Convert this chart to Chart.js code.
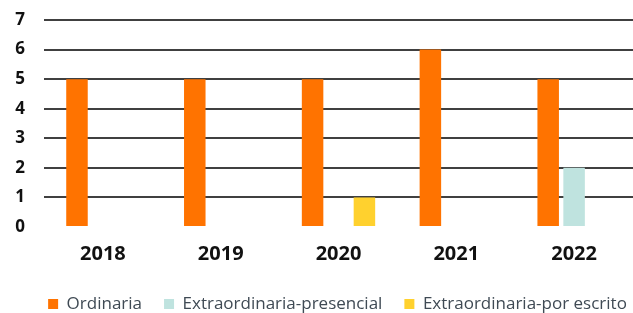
<!DOCTYPE html>
<html>
<head>
<meta charset="utf-8">
<script src="https://cdn.jsdelivr.net/npm/chart.js@4"></script>
<style>
    html, body { margin: 0; padding: 0; background: #fff; }
    #wrap { width: 633px; height: 313px; position: relative; }
</style>
</head>
<body>
<div id="wrap"><canvas id="chartSesiones"></canvas></div>
<script>
const years = ["2018", "2019", "2020", "2021", "2022"];
const ordinaria = [5, 5, 5, 6, 5];
const extraPresencial = [0, 0, 0, 0, 2];
const extraEscrito = [0, 0, 1, 0, 0];
const yTicks = [0, 1, 2, 3, 4, 5, 6, 7];

// the legend in the original sits a bit right of centre
const legendShift = {
    id: "legendShift",
    afterLayout(chart) {
        chart.legend.left += 21;
        chart.legend.right += 21;
    }
};

new Chart(document.getElementById("chartSesiones"), {
    type: "bar",
    data: {
        labels: years,
        datasets: [
            { label: "Ordinaria", data: ordinaria, backgroundColor: "#ff7300" },
            { label: "Extraordinaria-presencial", data: extraPresencial, backgroundColor: "#bfe3df" },
            { label: "Extraordinaria-por escrito", data: extraEscrito, backgroundColor: "#ffd12e" }
        ]
    },
    options: {
        responsive: true,
        maintainAspectRatio: false,
        animation: false,
        layout: { padding: { top: 0, right: 0, left: 0, bottom: -9.5 } },
        datasets: {
            bar: { categoryPercentage: 0.66, barPercentage: 0.83 }
        },
        plugins: {
            legend: {
                position: "bottom",
                labels: {
                    boxWidth: 10,
                    boxHeight: 10,
                    padding: 22,
                    color: "#3f4a54",
                    font: { family: "Open Sans", size: 17 }
                }
            },
            tooltip: { enabled: false }
        },
        scales: {
            x: {
                afterFit: axis => { axis.height = 46.5; },
                grid: { display: false, drawTicks: false },
                border: { display: false },
                ticks: {
                    color: "#111",
                    padding: 15,
                    font: { family: "Open Sans", size: 20, weight: "bold" }
                }
            },
            y: {
                min: 0,
                max: 7,
                afterFit: axis => {
                    axis.width = 44;
                    // tick padding is only meant for the horizontal gap
                    axis.paddingTop = 20;
                    axis.paddingBottom = 10;
                },
                afterBuildTicks: axis => { axis.ticks = yTicks.map(v => ({ value: v })); },
                border: { display: false },
                grid: {
                    color: ctx => ctx.tick && ctx.tick.value === 0 ? "rgba(0,0,0,0)" : "#404040",
                    lineWidth: 2,
                    drawTicks: false
                },
                ticks: {
                    autoSkip: false,
                    color: "#111",
                    padding: 19,
                    font: { family: "Open Sans", size: 17, weight: "bold" }
                }
            }
        }
    },
    plugins: [legendShift]
});
</script>
</body>
</html>
